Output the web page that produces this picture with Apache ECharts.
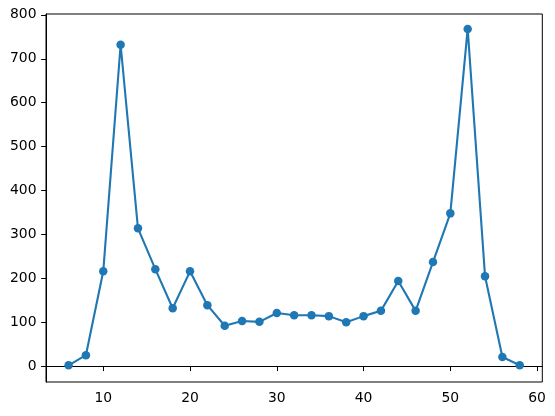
<!DOCTYPE html>
<html>
<head>
<meta charset="utf-8">
<script src="https://cdn.jsdelivr.net/npm/echarts@6/dist/echarts.min.js"></script>
<style>html,body{margin:0;padding:0;background:#fff}#c{width:555px;height:416px}</style>
</head>
<body>
<div id="c"></div>
<script>
const xValues = [6, 8, 10, 12, 14, 16, 18, 20, 22, 24, 26, 28, 30, 32, 34, 36, 38, 40, 42, 44, 46, 48, 50, 52, 54, 56, 58];
const yValues = [2, 25, 216, 732, 314, 221, 132, 216, 139, 92, 103, 101, 121, 116, 116, 114, 100, 114, 126, 194, 126, 237, 348, 768, 205, 21, 2];
const xTicks = [10, 20, 30, 40, 50, 60];
const yTicks = [0, 100, 200, 300, 400, 500, 600, 700, 800];

const points = xValues.map((x, i) => [x, yValues[i]]);
const font = { fontFamily: 'DejaVu Sans', fontSize: 13.9, color: '#000' };

const chart = echarts.init(document.getElementById('c'), null, { renderer: 'canvas' });
chart.setOption({
  animation: false,
  backgroundColor: '#fff',
  grid: { left: 46, right: 12.7, top: 14, bottom: 34, show: true, borderColor: '#000', borderWidth: 1, backgroundColor: 'transparent' },
  xAxis: {
    type: 'value', min: 3.4, max: 60.6,
    axisLine: { show: true, lineStyle: { color: '#000', width: 1 } },
    axisTick: { show: true, length: 4.9, inside: false, lineStyle: { color: '#000', width: 1 }, customValues: xTicks },
    axisLabel: Object.assign({ margin: 9.5, customValues: xTicks }, font),
    splitLine: { show: false }
  },
  yAxis: {
    type: 'value', min: -36, max: 802,
    axisLine: { show: true, lineStyle: { color: '#000', width: 1 } },
    axisTick: { show: true, length: 4.9, inside: false, lineStyle: { color: '#000', width: 1 }, customValues: yTicks },
    axisLabel: Object.assign({ margin: 9.5, customValues: yTicks }, font),
    splitLine: { show: false }
  },
  series: [{
    type: 'line',
    data: points,
    symbol: 'circle',
    symbolSize: 8.5,
    showAllSymbol: true,
    lineStyle: { color: '#1f77b4', width: 2.1 },
    itemStyle: { color: '#1f77b4', borderWidth: 0 },
    emphasis: { disabled: true }
  }]
});
</script>
</body>
</html>
